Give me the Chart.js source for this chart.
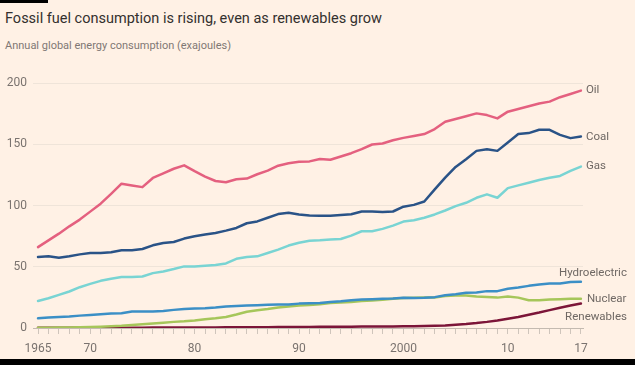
<!DOCTYPE html>
<html>
<head>
<meta charset="utf-8">
<script src="https://cdn.jsdelivr.net/npm/chart.js@4"></script>
<style>
  html, body { margin: 0; padding: 0; background: #fff1e5; }
  body { width: 635px; height: 365px; position: relative; overflow: hidden; font-family: Roboto, "Noto Sans", sans-serif; }
  #topBar { position: absolute; left: 0; top: 0; width: 48px; height: 3px; background: #000; }
  #bottomBar { position: absolute; left: 0; top: 359px; width: 635px; height: 6px; background: #000; }
  #title { position: absolute; left: 5px; top: 10px; font-size: 14.5px; color: #33302e; margin: 0; font-weight: 400; white-space: nowrap; }
  #subtitle { position: absolute; left: 5px; top: 39px; font-size: 11px; color: #7f7874; margin: 0; white-space: nowrap; }
  #wrap { position: absolute; left: 0; top: 0; width: 635px; height: 359px; }
</style>
</head>
<body>
<div id="topBar"></div>
<h1 id="title">Fossil fuel consumption is rising, even as renewables grow</h1>
<p id="subtitle">Annual global energy consumption (exajoules)</p>
<div id="wrap"><canvas id="energyChart"></canvas></div>
<div id="bottomBar"></div>
<script>
const years = [1965, 1966, 1967, 1968, 1969, 1970, 1971, 1972, 1973, 1974,
    1975, 1976, 1977, 1978, 1979, 1980, 1981, 1982, 1983, 1984,
    1985, 1986, 1987, 1988, 1989, 1990, 1991, 1992, 1993, 1994,
    1995, 1996, 1997, 1998, 1999, 2000, 2001, 2002, 2003, 2004,
    2005, 2006, 2007, 2008, 2009, 2010, 2011, 2012, 2013, 2014,
    2015, 2016, 2017];

const oil = [66, 71.5, 77, 83, 88.5, 95, 101.5, 109.5, 117.8, 116.4,
    115, 122.5, 126.3, 130, 132.8, 128, 123.6, 120, 119, 121.4,
    122, 125.5, 128.5, 132.5, 134.5, 135.7, 136, 138, 137.3, 140,
    142.7, 146, 149.8, 150.6, 153.3, 155.2, 156.7, 158.3, 162.4, 168.4,
    170.6, 172.8, 175.2, 173.8, 171.1, 176.6, 178.8, 181, 183.2, 184.8,
    188.4, 191, 193.8];

const coal = [58, 58.5, 57.3, 58.5, 60.1, 61.2, 61.2, 61.8, 63.4, 63.4,
    64.5, 67.5, 69.4, 70.2, 73, 74.9, 76.3, 77.6, 79.5, 81.7,
    85.5, 87, 90, 93, 94, 92.7, 91.8, 91.6, 91.6, 92.2,
    92.9, 95.1, 95.1, 94.6, 95.1, 99, 100.5, 103.3, 113.2, 122.7,
    131.5, 137.8, 144.6, 146, 144.6, 151.4, 158.3, 159.1, 161.8, 161.8,
    157.7, 155, 156.4];

const gas = [22.1, 24.3, 27, 29.8, 33.3, 36, 38.5, 40.2, 41.6, 41.6,
    42, 44.8, 46.2, 48.1, 50.3, 50.3, 50.8, 51.4, 52.7, 56.5,
    58, 58.5, 61.2, 64, 67.3, 69.6, 71.3, 71.6, 72.2, 72.7,
    75.4, 79, 79, 80.9, 83.6, 86.9, 88, 90, 92.7, 95.9,
    99.5, 102.2, 106.3, 109.1, 106.3, 114.2, 116.4, 118.6, 120.8, 122.7,
    124.1, 128.2, 131.8];

const hydro = [7.9, 8.5, 9, 9.3, 10.1, 10.7, 11.2, 11.8, 12, 13.4,
    13.4, 13.4, 13.9, 14.8, 15.6, 15.9, 16.1, 16.7, 17.5, 18,
    18.3, 18.6, 18.9, 19.1, 19.1, 19.9, 20.3, 20.5, 21.3, 21.9,
    22.7, 23.2, 23.5, 23.8, 24, 24.6, 24.4, 24.6, 25.2, 26.8,
    27.6, 28.7, 29, 30.1, 30.1, 32, 33, 34.4, 35.5, 36.3,
    36.3, 37.5, 37.8];

const nuclear = [0.2, 0.3, 0.4, 0.5, 0.6, 0.8, 1.1, 1.4, 1.8, 2.4,
    3, 3.6, 4.3, 5, 5.5, 6.2, 7.2, 8, 9, 11,
    13.2, 14.5, 15.5, 16.8, 17.6, 18.4, 18.8, 19.4, 20.5, 20.8,
    21.3, 22.1, 22.4, 23, 23.8, 24.4, 24.6, 24.8, 24.8, 26.2,
    26.5, 26.5, 25.7, 25.4, 24.8, 25.7, 24.8, 22.7, 22.7, 23.2,
    23.5, 23.8, 23.8];

const renewables = [0.2, 0.2, 0.2, 0.2, 0.2, 0.3, 0.3, 0.3, 0.3, 0.3,
    0.3, 0.4, 0.4, 0.4, 0.4, 0.5, 0.5, 0.5, 0.6, 0.6,
    0.6, 0.7, 0.7, 0.8, 0.8, 0.9, 0.9, 1, 1, 1.1,
    1.1, 1.2, 1.2, 1.3, 1.3, 1.4, 1.5, 1.6, 1.8, 2,
    2.6, 3.2, 4, 5, 6.2, 7.6, 9, 10.8, 12.6, 14.6,
    16.5, 18.3, 20];

const yTicks = [0, 50, 100, 150, 200];
const xTickLabels = { 1965: '1965', 1970: '70', 1980: '80', 1990: '90', 2000: '2000', 2010: '10', 2017: '17' };

const seriesNames = ['Oil', 'Coal', 'Gas', 'Hydroelectric', 'Nuclear', 'Renewables'];
const seriesValues = [oil, coal, gas, hydro, nuclear, renewables];
const seriesColors = ['#e4607f', '#2a5387', '#79d4d3', '#3b8fc6', '#a6c65a', '#7c1538'];

// where the end labels sit relative to each line's last point
const labelPlacement = {
    Oil: { dx: 5, dy: -0.5, align: 'left' },
    Coal: { dx: 5, dy: 1, align: 'left' },
    Gas: { dx: 5, dy: 0, align: 'left' },
    Hydroelectric: { dx: 46, dy: -9, align: 'right' },
    Nuclear: { dx: 6, dy: 0, align: 'left' },
    Renewables: { dx: 46, dy: 14, align: 'right' },
};

const endLabels = {
    id: 'endLabels',
    afterDatasetsDraw(chart) {
        const ctx = chart.ctx;
        const xs = chart.scales.x;
        const ys = chart.scales.y;
        ctx.save();
        ctx.font = '11.5px Roboto, "Noto Sans", sans-serif';
        ctx.fillStyle = '#6f6864';
        ctx.textBaseline = 'middle';
        seriesNames.forEach((name, i) => {
            const vals = seriesValues[i];
            const px = xs.getPixelForValue(years[years.length - 1]);
            const py = ys.getPixelForValue(vals[vals.length - 1]);
            const p = labelPlacement[name];
            ctx.textAlign = p.align;
            ctx.fillText(name, px + p.dx, py + p.dy);
        });
        ctx.restore();
    }
};

const ctx = document.getElementById('energyChart').getContext('2d');
const chart = new Chart(ctx, {
    type: 'line',
    data: {
        datasets: seriesNames.map((name, i) => ({
            label: name,
            data: seriesValues[i].map((v, j) => ({ x: years[j], y: v })),
            borderColor: seriesColors[i],
            borderWidth: 2.5,
            pointRadius: 0,
            tension: 0,
            fill: false,
            borderJoinStyle: 'round',
            borderCapStyle: 'round',
        })),
    },
    options: {
        responsive: true,
        maintainAspectRatio: false,
        animation: false,
        layout: { padding: { top: 83, right: 52, left: 0, bottom: 0 } },
        plugins: {
            legend: { display: false },
            tooltip: { enabled: false },
        },
        scales: {
            x: {
                type: 'linear',
                min: 1964.52,
                max: 2017.2,
                afterFit: (s) => { s.height = 31; },
                border: { display: true, color: '#c4bab0', width: 1 },
                grid: {
                    drawOnChartArea: false,
                    drawTicks: true,
                    tickLength: 6,
                    tickColor: '#cfc5bb',
                },
                ticks: {
                    stepSize: 1,
                    autoSkip: false,
                    maxRotation: 0,
                    includeBounds: false,
                    padding: 8,
                    color: '#7a736f',
                    font: { family: 'Roboto, "Noto Sans", sans-serif', size: 12 },
                    callback: (v) => xTickLabels[v] || '',
                },
            },
            y: {
                min: 0,
                max: 200,
                afterFit: (s) => { s.width = 33; },
                afterBuildTicks: (s) => { s.ticks = yTicks.map(v => ({ value: v })); },
                border: { display: false },
                grid: {
                    drawTicks: false,
                    color: (c) => c.tick && c.tick.value === 0 ? 'rgba(0,0,0,0)' : '#efe4d9',
                    lineWidth: 1,
                },
                ticks: {
                    padding: 6,
                    color: '#7a736f',
                    font: { family: 'Roboto, "Noto Sans", sans-serif', size: 12 },
                },
            },
        },
    },
    plugins: [endLabels],
});
</script>
</body>
</html>
